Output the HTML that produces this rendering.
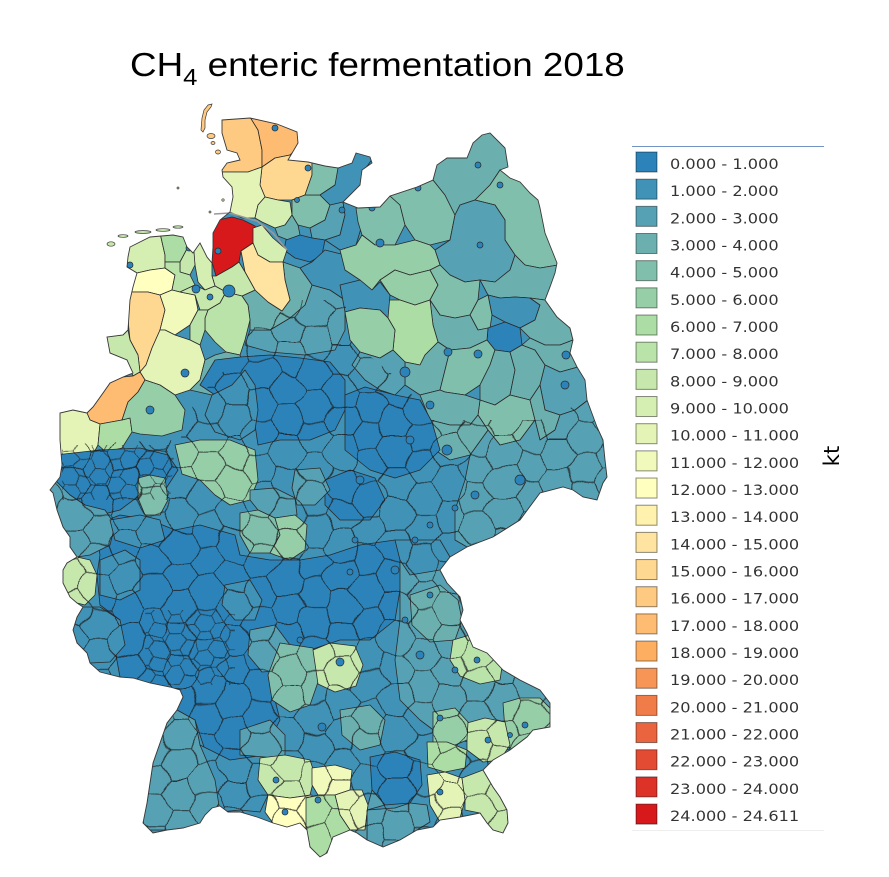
<!DOCTYPE html>
<html><head><meta charset="utf-8"><style>
html,body{margin:0;padding:0;background:#fff;}
svg{display:block;}
.r{stroke:#2a2a2a;stroke-width:.8;stroke-linejoin:round;}
.c{fill:#2b83ba;stroke:#2a2a2a;stroke-width:.7;}
.lg text{font-family:"DejaVu Sans",sans-serif;font-size:14.5px;fill:#333;}
.sw{stroke:rgba(0,0,0,.45);stroke-width:1;}
</style></head><body>
<svg width="889" height="877" viewBox="0 0 889 877" xmlns="http://www.w3.org/2000/svg">
<defs>
<clipPath id="de"><path id="dep" d="M222,120 L250,118 277,124 297,132 298,143 288,160 308,162 325,166 338,168 352,163 356,153 370,157 372,163 362,170 360,185 350,195 343,202 358,208 380,207 390,196 417,187 433,180 437,165 447,158 467,158 473,143 482,135 490,133 500,143 505,148 508,167 500,170 510,178 520,182 530,193 538,200 540,208 542,218 545,233 553,253 557,263 555,273 550,287 545,300 557,317 570,328 573,340 570,353 577,367 585,380 587,400 597,427 603,440 605,460 607,477 603,483 597,500 583,497 573,490 563,487 540,493 520,520 493,537 467,547 450,557 440,570 447,583 460,597 463,610 460,620 467,633 473,647 487,653 503,670 520,680 540,690 550,703 550,727 533,730 527,737 510,750 493,760 483,770 493,787 500,797 507,810 508,823 503,833 493,830 487,823 480,813 460,817 440,820 433,827 417,830 400,840 383,847 367,840 357,833 350,830 333,837 327,853 320,857 310,847 307,830 300,823 287,827 273,823 257,817 240,812 228,812 220,806 212,808 205,815 200,823 183,828 167,830 153,833 143,823 147,803 150,783 153,763 160,743 167,723 177,710 183,697 180,690 170,687 150,683 133,678 120,677 100,672 90,663 87,653 77,643 73,630 77,617 83,607 77,603 70,597 63,583 63,570 67,563 77,557 70,547 70,537 63,527 57,510 53,493 50,490 60,477 62,465 60,440 60,413 73,410 87,413 93,407 103,393 110,383 123,377 133,373 127,360 110,353 107,337 123,335 128,330 130,300 133,287 137,273 127,267 128,257 130,247 150,237 173,235 183,237 187,247 193,253 200,243 207,257 212,263 213,247 213,233 220,220 230,212 233,197 232,187 223,177 222,170 227,163 240,160 237,153 227,150 222,133 Z"/></clipPath>
<clipPath id="gz"><polygon points="40,445 180,440 195,400 240,355 250,330 300,300 345,300 350,340 360,348 405,385 430,420 480,420 540,420 590,400 620,400 620,880 40,880"/></clipPath>
<clipPath id="fz"><polygon points="62,445 175,445 170,500 62,500"/><polygon points="145,610 235,610 235,685 145,685"/></clipPath>
<pattern id="grid" width="54" height="31.18" patternUnits="userSpaceOnUse">
<path d="M0,15.59 L9,0 L27,0 L36,15.59 L27,31.18 L9,31.18 Z M36,15.59 L54,15.59" stroke="#1e1e1e" stroke-width="1" fill="none"/>
</pattern>
<pattern id="fgrid" width="30" height="17.32" patternUnits="userSpaceOnUse">
<path d="M0,8.66 L5,0 L15,0 L20,8.66 L15,17.32 L5,17.32 Z M20,8.66 L30,8.66" stroke="#1e1e1e" stroke-width="0.9" fill="none"/>
</pattern>
<filter id="wob" filterUnits="userSpaceOnUse" x="0" y="0" width="889" height="877">
<feTurbulence type="fractalNoise" baseFrequency="0.03" numOctaves="2" seed="11" result="n"/>
<feDisplacementMap in="SourceGraphic" in2="n" scale="16" xChannelSelector="R" yChannelSelector="G"/>
</filter>
<filter id="wob2" filterUnits="userSpaceOnUse" x="0" y="0" width="889" height="877">
<feTurbulence type="fractalNoise" baseFrequency="0.05" numOctaves="1" seed="3" result="n"/>
<feDisplacementMap in="SourceGraphic" in2="n" scale="9" xChannelSelector="R" yChannelSelector="G"/>
</filter>
</defs>
<rect width="889" height="877" fill="#fff"/>

<text transform="translate(130,76) scale(1.115,1)" font-family="Liberation Sans, Arial, sans-serif" font-size="33" fill="#000">CH<tspan font-size="23" dy="9">4</tspan><tspan dy="-9"> enteric fermentation 2018</tspan></text>

<use href="#dep" fill="#4092b6"/>
<g clip-path="url(#de)">
<polygon class="r" fill="#fec980" points="215,115 250,117 258,130 262,150 262,167 248,172 240,172 215,172"/>
<polygon class="r" fill="#fdbc71" points="250,117 300,125 300,145 290,155 275,158 262,167 262,150 258,130"/>
<polygon class="r" fill="#fed790" points="262,167 275,158 290,155 295,158 312,160 312,175 305,195 292,200 278,200 265,197 260,185"/>
<polygon class="r" fill="#e3f4b6" points="215,172 240,172 248,172 262,167 260,185 265,197 258,205 255,218 242,218 232,213 215,205"/>
<polygon class="r" fill="#d5eeb2" points="258,205 265,197 278,200 290,202 292,215 285,225 275,228 262,222 255,218"/>
<polygon class="r" fill="#6bb0af" points="275,228 285,225 292,215 298,225 300,235 288,240 278,236"/>
<polygon class="r" fill="#80bfab" points="292,200 305,195 320,195 330,205 325,220 310,228 298,225 292,215"/>
<polygon class="r" fill="#80bfab" points="312,160 340,160 338,180 335,185 320,195 305,195 312,175"/>
<polygon class="r" fill="#4092b6" points="338,168 352,160 356,150 375,155 368,165 362,172 362,185 352,195 345,202 335,205 330,205 320,195 335,185"/>
<polygon class="r" fill="#56a1b3" points="310,228 325,220 330,205 343,202 345,215 340,235 325,240 312,238"/>
<polygon class="r" fill="#4092b6" points="343,202 358,208 362,225 356,245 340,250 325,240 340,235 345,215"/>
<polygon class="r" fill="#2b83ba" points="286,240 300,235 312,238 325,240 322,255 310,262 295,258 284,250"/>
<polygon class="r" fill="#56a1b3" points="250,330 270,330 290,318 305,305 312,285 330,290 345,300 345,330 335,350 305,355 270,352 245,345"/>
<polygon class="r" fill="#4092b6" points="312,262 325,250 345,255 360,268 360,290 345,300 330,290 312,285 300,268"/>
<polygon class="r" fill="#6bb0af" points="242,296 255,290 268,302 282,311 290,300 285,280 283,262 300,268 312,285 305,305 290,318 270,330 250,330 250,320 248,305"/>
<polygon class="r" fill="#d7191c" points="218,220 232,217 243,220 255,226 258,232 253,243 241,251 239,262 232,267 216,276 212,262 213,247 213,233"/>
<polygon class="r" fill="#d5eeb2" points="253,228 262,225 273,238 287,250 283,262 270,262 258,255 253,243"/>
<polygon class="r" fill="#fee4a0" points="241,251 253,243 258,255 270,262 283,262 285,280 290,300 282,311 268,302 255,290 245,272"/>
<polygon class="r" fill="#c7e8ad" points="212,276 216,276 232,267 239,262 245,272 255,290 242,296 226,292 215,286"/>
<polygon class="r" fill="#d5eeb2" points="195,240 203,243 207,257 212,263 212,276 215,286 205,290 198,282 195,265 193,253"/>
<polygon class="r" fill="#d5eeb2" points="120,240 150,233 160,233 165,255 165,268 150,270 137,273 127,267 125,255"/>
<polygon class="r" fill="#abdda4" points="160,233 175,230 185,233 188,247 180,262 165,262 165,255"/>
<polygon class="r" fill="#c7e8ad" points="180,262 188,247 194,252 195,265 190,275 180,272"/>
<polygon class="r" fill="#ffffbf" points="125,273 137,273 150,270 165,268 175,275 172,290 160,295 148,292 128,292"/>
<polygon class="r" fill="#b9e3a9" points="165,262 180,262 180,272 190,275 195,285 180,292 172,290 175,275 165,268"/>
<polygon class="r" fill="#fed790" points="128,292 148,292 160,295 165,310 160,330 152,348 146,365 140,372 138,355 130,340 128,320"/>
<polygon class="r" fill="#f1f9bb" points="160,295 172,290 180,292 195,295 198,310 190,325 175,335 165,330 160,330 165,310"/>
<polygon class="r" fill="#c7e8ad" points="180,292 195,285 205,290 215,286 226,292 220,303 208,310 200,310 195,295"/>
<polygon class="r" fill="#b9e3a9" points="208,310 220,303 226,292 242,296 248,305 250,320 245,340 240,355 226,352 215,342 205,330 205,318"/>
<polygon class="r" fill="#b9e3a9" points="190,325 198,310 200,310 208,310 205,318 205,330 200,345 190,340"/>
<polygon class="r" fill="#c7e8ad" points="103,337 123,335 128,330 130,340 138,355 140,372 133,376 127,360 110,353"/>
<polygon class="r" fill="#e3f4b6" points="140,372 146,365 152,348 160,330 165,330 175,335 190,340 200,345 205,360 200,380 190,390 175,395 160,385 145,380"/>
<polygon class="r" fill="#fdbc71" points="87,413 93,407 103,393 110,383 123,377 133,376 140,372 145,380 138,392 128,402 122,420 100,424 90,420"/>
<polygon class="r" fill="#e3f4b6" points="55,413 73,410 87,413 90,420 100,424 98,445 90,460 75,462 55,460"/>
<polygon class="r" fill="#abdda4" points="100,424 122,420 130,418 132,432 122,448 106,452 98,445"/>
<polygon class="r" fill="#96cea8" points="122,420 128,402 138,392 145,380 160,385 175,395 185,410 182,430 162,436 140,434 132,432 130,418"/>
<polygon class="r" fill="#6bb0af" points="190,390 200,380 205,360 215,355 226,352 240,355 245,370 232,385 212,395"/>
<polygon class="r" fill="#80bfab" points="356,208 380,207 390,196 400,205 405,225 395,245 375,245 362,235 358,222"/>
<polygon class="r" fill="#80bfab" points="390,196 417,187 433,180 445,195 455,215 450,240 430,245 415,240 405,225 400,205"/>
<polygon class="r" fill="#6bb0af" points="433,180 437,160 447,155 467,155 473,140 482,130 492,128 505,145 510,167 500,170 490,185 475,200 460,205 455,215 445,195"/>
<polygon class="r" fill="#80bfab" points="490,185 500,170 510,175 522,180 532,192 540,200 545,218 548,233 555,253 558,265 540,268 525,265 515,255 505,240 505,220 495,205 475,200"/>
<polygon class="r" fill="#56a1b3" points="450,240 455,215 460,205 475,200 495,205 505,220 505,240 515,255 510,270 495,282 480,280 465,282 450,275 440,265 435,250"/>
<polygon class="r" fill="#96cea8" points="340,250 356,245 362,235 375,245 395,245 415,240 430,245 435,250 440,265 430,270 410,275 395,270 380,280 372,290 360,280 345,270"/>
<polygon class="r" fill="#96cea8" points="380,280 395,270 410,275 430,270 438,285 430,300 415,305 400,300 390,295"/>
<polygon class="r" fill="#80bfab" points="430,270 440,265 450,275 465,282 480,280 478,300 470,315 455,318 440,315 430,300 438,285"/>
<polygon class="r" fill="#6bb0af" points="480,280 495,282 510,270 515,255 525,265 540,268 558,265 555,275 550,287 545,300 530,298 515,297 500,298 488,295"/>
<polygon class="r" fill="#4092b6" points="488,295 500,298 515,297 530,298 540,305 535,320 520,328 505,322 492,315"/>
<polygon class="r" fill="#80bfab" points="470,315 478,300 488,295 492,315 490,328 478,330"/>
<polygon class="r" fill="#6bb0af" points="530,298 545,300 557,317 570,328 573,340 560,345 545,345 530,338 520,328 535,320 540,305"/>
<polygon class="r" fill="#2b83ba" points="488,328 505,322 520,328 522,345 510,352 495,350 487,340"/>
<polygon class="r" fill="#6bb0af" points="430,300 440,315 455,318 470,315 478,330 488,328 487,340 470,348 450,350 438,342 433,325"/>
<polygon class="r" fill="#abdda4" points="387,300 400,300 415,305 430,300 433,325 438,342 425,355 420,365 405,362 393,350 395,330 388,318"/>
<polygon class="r" fill="#4092b6" points="340,285 360,280 372,290 380,282 390,295 388,318 380,310 360,308 345,312"/>
<polygon class="r" fill="#96cea8" points="345,312 360,308 380,310 388,318 395,330 393,350 380,358 360,352 350,340"/>
<polygon class="r" fill="#6bb0af" points="405,362 420,365 425,355 438,342 450,350 445,370 440,390 420,395 405,385"/>
<polygon class="r" fill="#80bfab" points="450,350 470,348 487,340 495,350 490,365 480,385 465,395 445,392 440,390 445,370"/>
<polygon class="r" fill="#6bb0af" points="495,350 510,352 515,370 510,395 495,405 480,400 480,385 490,365"/>
<polygon class="r" fill="#6bb0af" points="510,352 522,345 535,350 545,365 540,385 530,400 510,395 515,370"/>
<polygon class="r" fill="#6bb0af" points="522,345 530,338 545,345 560,345 573,340 572,353 578,367 560,372 545,365 535,350"/>
<polygon class="r" fill="#56a1b3" points="545,365 560,372 578,367 586,380 588,400 575,410 560,415 545,410 540,385"/>
<polygon class="r" fill="#80bfab" points="480,400 495,405 510,395 530,400 535,420 520,440 500,445 488,430 478,415"/>
<polygon class="r" fill="#6bb0af" points="530,400 540,385 545,410 560,415 555,430 540,440 535,420"/>
<polygon class="r" fill="#56a1b3" points="360,352 380,358 393,350 405,362 405,385 395,395 380,390 365,380 352,365"/>
<polygon class="r" fill="#6bb0af" points="420,395 440,390 445,392 465,395 480,400 478,415 470,425 450,425 430,420"/>
<polygon class="r" fill="#56a1b3" points="520,440 535,420 540,440 555,430 560,415 575,410 588,400 597,427 603,440 607,477 603,483 597,500 583,497 563,487 540,493 520,520 493,537 467,547 455,540 455,510 465,480 470,455 488,430 500,445"/>
<polygon class="r" fill="#6bb0af" points="430,420 450,425 470,425 478,415 488,430 470,455 450,460 435,450"/>
<polygon class="r" fill="#2b83ba" points="55,455 100,450 140,448 168,455 178,470 165,490 140,495 120,510 100,515 85,505 70,495 55,480"/>
<polygon class="r" fill="#2b83ba" points="200,385 215,360 240,357 270,355 300,358 330,362 345,380 345,410 335,430 310,440 280,440 258,445 255,425 240,400 215,395"/>
<polygon class="r" fill="#2b83ba" points="345,395 365,387 395,395 420,400 432,422 440,450 420,470 395,478 370,470 345,450"/>
<polygon class="r" fill="#2b83ba" points="95,525 120,515 150,520 175,530 200,525 235,535 240,555 270,560 300,560 330,555 360,545 395,540 410,560 400,590 395,620 370,640 340,640 310,650 280,645 270,680 280,720 265,750 240,770 210,765 195,720 177,710 183,697 180,690 150,683 120,677 115,650 120,620 100,605 97,575 100,555"/>
<polygon class="r" fill="#2b83ba" points="325,480 350,470 375,478 385,500 370,520 340,520 325,505"/>
<polygon class="r" fill="#56a1b3" points="45,490 57,510 63,527 70,537 70,547 77,557 90,555 110,545 115,525 105,510 85,505 70,495 55,480"/>
<polygon class="r" fill="#80bfab" points="138,478 150,475 165,478 168,500 160,515 145,515 138,498"/>
<polygon class="r" fill="#c7e8ad" points="55,570 67,563 77,557 90,560 97,575 95,595 85,605 77,603 65,597 55,583"/>
<polygon class="r" fill="#4092b6" points="77,617 83,607 100,607 120,620 125,645 110,662 90,663 87,653 77,643 73,630"/>
<polygon class="r" fill="#4092b6" points="100,560 125,550 140,560 140,590 120,600 100,595"/>
<polygon class="r" fill="#4092b6" points="110,520 140,515 160,520 165,540 140,548 115,540"/>
<polygon class="r" fill="#56a1b3" points="140,830 147,803 150,783 153,763 160,743 167,723 177,710 195,720 200,745 215,770 225,795 213,812 200,823 180,830"/>
<polygon class="r" fill="#4092b6" points="200,745 230,760 265,755 285,760 290,790 268,795 260,812 240,810 220,812 215,780"/>
<polygon class="r" fill="#56a1b3" points="240,730 270,720 285,735 285,760 265,757 240,755"/>
<polygon class="r" fill="#96cea8" points="175,445 200,440 230,440 255,450 258,480 250,500 230,505 215,495 200,480 182,474"/>
<polygon class="r" fill="#4092b6" points="212,395 232,385 245,370 255,385 258,410 255,430 240,440 215,432 205,415"/>
<polygon class="r" fill="#56a1b3" points="250,490 275,488 295,498 297,515 275,518 258,510 250,500"/>
<polygon class="r" fill="#80bfab" points="240,513 258,510 275,518 280,535 270,553 250,553 240,535"/>
<polygon class="r" fill="#96cea8" points="275,518 295,515 307,525 305,550 290,560 275,555 270,553 280,535"/>
<polygon class="r" fill="#56a1b3" points="295,470 320,468 330,490 315,505 297,505 292,488"/>
<polygon class="r" fill="#4092b6" points="225,585 250,580 262,600 255,620 235,620 222,605"/>
<polygon class="r" fill="#56a1b3" points="250,630 275,625 290,645 285,670 262,672 248,655"/>
<polygon class="r" fill="#80bfab" points="280,643 313,648 318,682 310,705 290,712 272,700 268,675"/>
<polygon class="r" fill="#c7e8ad" points="313,650 330,643 355,646 363,665 356,686 335,692 318,684"/>
<polygon class="r" fill="#56a1b3" points="400,560 440,555 450,557 440,570 447,583 460,597 463,610 460,620 467,633 473,647 487,653 503,670 520,680 540,690 550,703 550,727 533,730 527,737 510,750 480,745 460,740 440,735 420,720 400,700 395,660 400,620"/>
<polygon class="r" fill="#4092b6" points="395,540 440,540 450,557 440,570 410,575 400,560"/>
<polygon class="r" fill="#6bb0af" points="410,595 440,585 458,600 462,620 455,640 430,642 412,625"/>
<polygon class="r" fill="#b9e3a9" points="453,640 470,635 490,640 503,660 500,680 480,684 460,676 450,660"/>
<polygon class="r" fill="#96cea8" points="503,703 520,698 540,698 552,710 550,727 533,730 527,737 510,750 505,730"/>
<polygon class="r" fill="#c7e8ad" points="467,723 485,718 505,722 510,745 500,760 483,762 467,750"/>
<polygon class="r" fill="#96cea8" points="433,712 455,708 468,722 467,740 455,745 433,742"/>
<polygon class="r" fill="#abdda4" points="427,742 447,742 467,750 465,768 445,772 428,767"/>
<polygon class="r" fill="#e3f4b6" points="427,775 445,772 462,778 465,800 460,818 440,822 430,805"/>
<polygon class="r" fill="#c7e8ad" points="462,778 483,770 493,787 500,797 507,810 508,823 503,833 493,830 487,823 480,813 465,810 465,800"/>
<polygon class="r" fill="#56a1b3" points="367,810 395,808 410,803 427,805 430,822 417,830 400,840 383,847 367,840"/>
<polygon class="r" fill="#6bb0af" points="340,710 370,705 385,720 380,745 360,750 342,735"/>
<polygon class="r" fill="#2b83ba" points="370,757 395,752 420,760 422,785 410,803 385,805 372,790"/>
<polygon class="r" fill="#c7e8ad" points="260,758 285,755 310,760 315,775 310,795 290,798 268,795 258,780"/>
<polygon class="r" fill="#ffffbf" points="268,795 290,798 312,795 312,812 306,828 290,830 275,826 265,812"/>
<polygon class="r" fill="#f1f9bb" points="312,768 335,765 352,770 350,790 335,795 318,795 312,785"/>
<polygon class="r" fill="#e3f4b6" points="335,795 350,790 362,790 368,805 365,830 350,830 340,815"/>
<polygon class="r" fill="#abdda4" points="306,798 318,795 335,795 340,815 350,830 335,837 327,853 320,857 310,847 306,830"/>
<polygon class="r" fill="#56a1b3" points="350,830 365,830 368,805 372,790 385,805 367,810 367,840 357,833"/>
</g>
<g clip-path="url(#de)"><g clip-path="url(#gz)" opacity="0.8"><rect x="-40" y="-40" width="969" height="957" fill="url(#grid)" filter="url(#wob)"/></g></g>
<g clip-path="url(#de)"><g clip-path="url(#fz)" opacity="0.65"><rect x="-40" y="-40" width="969" height="957" fill="url(#fgrid)" filter="url(#wob2)"/></g></g>
<g clip-path="url(#de)">
<circle class="c" cx="308" cy="168" r="3"/><circle class="c" cx="342" cy="210" r="3"/><circle class="c" cx="297" cy="200" r="2.5"/><circle class="c" cx="275" cy="128" r="3"/>
<circle class="c" cx="380" cy="243" r="4"/><circle class="c" cx="418" cy="188" r="3"/><circle class="c" cx="372" cy="208" r="3"/><circle class="c" cx="478" cy="165" r="3"/>
<circle class="c" cx="500" cy="185" r="3"/><circle class="c" cx="480" cy="245" r="3"/><circle class="c" cx="130" cy="265" r="3"/><circle class="c" cx="189" cy="248" r="3"/>
<circle class="c" cx="196" cy="289" r="4"/><circle class="c" cx="210" cy="297" r="3"/><circle class="c" cx="229" cy="291" r="6"/><circle class="c" cx="218" cy="251" r="3"/>
<circle class="c" cx="185" cy="373" r="4"/><circle class="c" cx="150" cy="410" r="4"/><circle class="c" cx="448" cy="352" r="4"/><circle class="c" cx="478" cy="354" r="4"/>
<circle class="c" cx="566" cy="355" r="4"/><circle class="c" cx="565" cy="385" r="4"/><circle class="c" cx="430" cy="405" r="4"/><circle class="c" cx="405" cy="372" r="5"/>
<circle class="c" cx="410" cy="440" r="4"/><circle class="c" cx="447" cy="450" r="5"/><circle class="c" cx="520" cy="480" r="5"/><circle class="c" cx="475" cy="495" r="4"/>
<circle class="c" cx="455" cy="508" r="3"/><circle class="c" cx="430" cy="525" r="3"/><circle class="c" cx="415" cy="540" r="3"/><circle class="c" cx="395" cy="570" r="4"/>
<circle class="c" cx="350" cy="572" r="3"/><circle class="c" cx="355" cy="540" r="3"/><circle class="c" cx="360" cy="480" r="4"/><circle class="c" cx="405" cy="620" r="3"/>
<circle class="c" cx="430" cy="595" r="3"/><circle class="c" cx="420" cy="655" r="4"/><circle class="c" cx="455" cy="670" r="3"/><circle class="c" cx="525" cy="725" r="3"/>
<circle class="c" cx="440" cy="718" r="3"/><circle class="c" cx="340" cy="662" r="4"/><circle class="c" cx="322" cy="727" r="4"/><circle class="c" cx="285" cy="812" r="3"/>
<circle class="c" cx="318" cy="800" r="3"/><circle class="c" cx="276" cy="780" r="3"/><circle class="c" cx="440" cy="792" r="3"/><circle class="c" cx="300" cy="640" r="3"/>
<circle class="c" cx="477" cy="660" r="3"/><circle class="c" cx="510" cy="735" r="2.5"/><circle class="c" cx="488" cy="740" r="3"/>
</g>
<path d="M214,214 L230,213 243,217 257,221 273,233 287,250" fill="none" stroke="#999" stroke-width="1.6"/>
<use href="#dep" fill="none" stroke="#3a3a3a" stroke-width="0.9"/>
<g stroke="#3a3a3a" stroke-width="0.7">
<path d="M208,105 L212,104 211,107 207,112 205,120 205,128 203,132 201,130 202,118 204,110Z" fill="#fec980"/>
<ellipse cx="211" cy="136" rx="4" ry="2.5" fill="#fec980"/>
<ellipse cx="213" cy="143" rx="2" ry="1.5" fill="#fec980"/>
<ellipse cx="218" cy="152" rx="2.5" ry="2" fill="#fec980"/>
<ellipse cx="111" cy="244" rx="4" ry="2.2" fill="#c7e8ad"/>
<ellipse cx="123" cy="236" rx="5" ry="1.3" fill="#c7e8ad"/>
<ellipse cx="143" cy="232" rx="8" ry="1.4" fill="#c7e8ad"/>
<ellipse cx="163" cy="230" rx="7" ry="1.3" fill="#c7e8ad"/>
<ellipse cx="178" cy="227" rx="5" ry="1.2" fill="#c7e8ad"/>
<circle cx="178" cy="188" r="1" fill="#d5eeb2"/>
<circle cx="223" cy="200" r="1.2" fill="#e3f4b6"/>
<circle cx="210" cy="212" r="1" fill="#e3f4b6"/>
</g>

<line x1="632" y1="146.5" x2="824" y2="146.5" stroke="#7393c4" stroke-width="1"/>
<line x1="632" y1="830.5" x2="824" y2="830.5" stroke="#eeeeee" stroke-width="1"/>
<g class="sw">
<rect x="636" y="152" width="21" height="20" fill="#2b83ba"/>
<rect x="636" y="179.17" width="21" height="20" fill="#4092b6"/>
<rect x="636" y="206.34" width="21" height="20" fill="#56a1b3"/>
<rect x="636" y="233.51" width="21" height="20" fill="#6bb0af"/>
<rect x="636" y="260.68" width="21" height="20" fill="#80bfab"/>
<rect x="636" y="287.85" width="21" height="20" fill="#96cea8"/>
<rect x="636" y="315.02" width="21" height="20" fill="#abdda4"/>
<rect x="636" y="342.19" width="21" height="20" fill="#b9e3a9"/>
<rect x="636" y="369.36" width="21" height="20" fill="#c7e8ad"/>
<rect x="636" y="396.53" width="21" height="20" fill="#d5eeb2"/>
<rect x="636" y="423.7" width="21" height="20" fill="#e3f4b6"/>
<rect x="636" y="450.87" width="21" height="20" fill="#f1f9bb"/>
<rect x="636" y="478.04" width="21" height="20" fill="#ffffbf"/>
<rect x="636" y="505.21" width="21" height="20" fill="#fff2af"/>
<rect x="636" y="532.38" width="21" height="20" fill="#fee4a0"/>
<rect x="636" y="559.55" width="21" height="20" fill="#fed790"/>
<rect x="636" y="586.72" width="21" height="20" fill="#fec980"/>
<rect x="636" y="613.89" width="21" height="20" fill="#fdbc71"/>
<rect x="636" y="641.06" width="21" height="20" fill="#fdae61"/>
<rect x="636" y="668.23" width="21" height="20" fill="#f79556"/>
<rect x="636" y="695.4" width="21" height="20" fill="#f07c4a"/>
<rect x="636" y="722.57" width="21" height="20" fill="#ea643f"/>
<rect x="636" y="749.74" width="21" height="20" fill="#e44b33"/>
<rect x="636" y="776.91" width="21" height="20" fill="#dd3228"/>
<rect x="636" y="804.08" width="21" height="20" fill="#d7191c"/>
</g>
<g class="lg" transform="translate(670,0) scale(1.115,1)">
<text x="0" y="169">0.000 - 1.000</text>
<text x="0" y="196.17">1.000 - 2.000</text>
<text x="0" y="223.34">2.000 - 3.000</text>
<text x="0" y="250.51">3.000 - 4.000</text>
<text x="0" y="277.68">4.000 - 5.000</text>
<text x="0" y="304.85">5.000 - 6.000</text>
<text x="0" y="332.02">6.000 - 7.000</text>
<text x="0" y="359.19">7.000 - 8.000</text>
<text x="0" y="386.36">8.000 - 9.000</text>
<text x="0" y="413.53">9.000 - 10.000</text>
<text x="0" y="440.7">10.000 - 11.000</text>
<text x="0" y="467.87">11.000 - 12.000</text>
<text x="0" y="495.04">12.000 - 13.000</text>
<text x="0" y="522.21">13.000 - 14.000</text>
<text x="0" y="549.38">14.000 - 15.000</text>
<text x="0" y="576.55">15.000 - 16.000</text>
<text x="0" y="603.72">16.000 - 17.000</text>
<text x="0" y="630.89">17.000 - 18.000</text>
<text x="0" y="658.06">18.000 - 19.000</text>
<text x="0" y="685.23">19.000 - 20.000</text>
<text x="0" y="712.4">20.000 - 21.000</text>
<text x="0" y="739.57">21.000 - 22.000</text>
<text x="0" y="766.74">22.000 - 23.000</text>
<text x="0" y="793.91">23.000 - 24.000</text>
<text x="0" y="821.08">24.000 - 24.611</text>
</g>
<text transform="translate(839,456) rotate(-90)" text-anchor="middle" font-family="DejaVu Sans, sans-serif" font-size="21" fill="#000">kt</text>
</svg>
</body></html>
